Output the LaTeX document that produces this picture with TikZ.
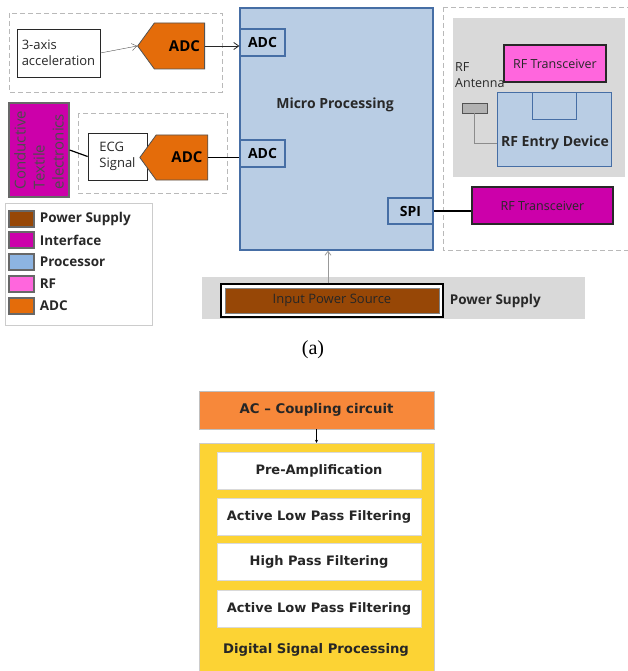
\documentclass[tikz,border=0pt]{standalone}
\usepackage{fontspec}
\setmainfont{Open Sans}
\newfontfamily\verd{DejaVu Sans}
\newfontfamily\capfont{Liberation Serif}
\usetikzlibrary{shapes.geometric, shapes.symbols, arrows.meta, positioning, calc}
\definecolor{procBlue}{RGB}{185,205,228}
\definecolor{procLine}{RGB}{70,110,165}
\definecolor{legBlue}{RGB}{141,180,226}
\definecolor{adcOrange}{RGB}{228,108,10}
\definecolor{ifMagenta}{RGB}{204,0,170}
\definecolor{rfPink}{RGB}{255,102,221}
\definecolor{powerBrown}{RGB}{151,71,6}
\definecolor{panelGray}{RGB}{217,217,217}
\definecolor{dashGray}{RGB}{185,185,185}
\definecolor{acOrange}{RGB}{247,136,58}
\definecolor{dspYellow}{RGB}{252,211,52}
\definecolor{darkgray}{RGB}{40,40,40}

\begin{document}
\begin{tikzpicture}[
  x=1pt, y=-1pt,
  plain/.style={
    rectangle, draw=darkgray, fill=white, thick, inner sep=2pt,
    align=left, font=\fontsize{13}{15.5}\selectfont, text=darkgray
  },
  adc/.style={
    signal, signal to=west, signal pointer angle=108,
    draw=darkgray!80, fill=adcOrange, thick, inner sep=0pt,
    minimum width=67pt, minimum height=46pt,
    font=\fontsize{15}{17}\selectfont\bfseries, text=black
  },
  port/.style={
    rectangle, draw=procLine, fill=procBlue, very thick, inner sep=0pt,
    minimum width=45pt, minimum height=27pt,
    font=\fontsize{14}{16}\selectfont\bfseries, text=black
  },
  rfbox/.style={
    rectangle, draw=darkgray, fill=#1, very thick, inner sep=0pt,
    font=\fontsize{12.5}{15}\selectfont, text=darkgray
  },
  group/.style={draw=dashGray, thick, dash pattern=on 5pt off 3pt},
  swatch/.style={
    rectangle, draw=darkgray!70, fill=#1, very thick,
    minimum width=25pt, minimum height=16pt
  },
  stage/.style={
    rectangle, draw=black!15, fill=white, inner sep=0pt,
    minimum width=204pt, minimum height=37pt,
    font=\verd\fontsize{13}{15}\selectfont\bfseries, text=black!85
  },
  arr/.style={-{Straight Barb[length=5pt,width=7pt]}, thick, darkgray},
  thinarr/.style={-{Straight Barb[length=5pt,width=7pt]}, darkgray!80},
  wire/.style={very thick, black}
]
  \useasboundingbox (0,0) rectangle (627,671);

  % Sensor groups
  \draw[group] (9,13) rectangle (222,92);
  \draw[group] (78,113) rectangle (227,193);
  \node[plain, minimum width=83pt, minimum height=48pt] (accel)
    at (58.5,53) {3-axis\\acceleration};
  \node[adc] (adcA) at (179.5,46) {\hspace*{10pt}ADC};
  \node[plain, minimum width=59pt, minimum height=47pt] (ecg)
    at (117.5,156.5) {ECG\\Signal};
  \node[adc, minimum width=68pt, minimum height=45pt] (adcB)
    at (182,157.5) {\hspace*{10pt}ADC};
  \node[rectangle, draw=darkgray!70, fill=ifMagenta, very thick,
    minimum width=94pt, minimum height=60pt, rotate=90, align=left,
    font=\fontsize{15}{19}\selectfont, text=black!70, inner sep=0pt]
    (textile) at (39,150) {Conductive\\Textile\\electronics};

  % Micro processor
  \node[rectangle, draw=procLine, fill=procBlue, very thick,
    minimum width=193pt, minimum height=242pt] (micro) at (336.5,129) {};
  \node[font=\fontsize{14}{16}\selectfont\bfseries, text=darkgray]
    (microlbl) at (335,105) {Micro Processing};
  \node[port] (portA) at (262.5,42.5) {ADC};
  \node[port] (portB) at (262.5,153.5) {ADC};
  \node[port, minimum height=26pt] (spi) at (410.5,211) {SPI};

  % RF group
  \draw[group] (443,7) -- (632,7);
  \draw[group] (443,7) -- (443,250) -- (632,250);
  \fill[panelGray] (453,18) rectangle (625,177);
  \node[rfbox=rfPink, minimum width=102pt, minimum height=37pt] (rfTop)
    at (555,63.5) {RF Transceiver};
  \node[rectangle, draw=procLine, fill=procBlue, thick,
    minimum width=114pt, minimum height=74pt] (entry) at (554,129) {};
  \node[rectangle, draw=procLine, fill=procBlue, thick, anchor=north,
    minimum width=44pt, minimum height=27pt] (entrySlot) at (554,92) {};
  \node[font=\fontsize{14}{16}\selectfont\bfseries, text=darkgray]
    (entrylbl) at (555,143) {RF Entry Device};
  \node[anchor=north west, align=left, inner sep=0pt,
    font=\fontsize{12.5}{16}\selectfont, text=darkgray]
    (antlbl) at (455,62) {RF\\Antenna};
  \node[rectangle, draw=darkgray!80, fill=black!30, thick,
    minimum width=25pt, minimum height=10pt, inner sep=0pt]
    (antenna) at (474.5,108) {};
  \node[rfbox=ifMagenta, minimum width=141pt, minimum height=37pt] (rfBot)
    at (542.5,205.5) {RF Transceiver};

  % Legend
  \draw[black!20, thick] (5,203) rectangle (152,325);
  \foreach \i/\y/\c/\t in {1/219/powerBrown/Power Supply,
                           2/240/ifMagenta/Interface,
                           3/262/legBlue/Processor,
                           4/284/rfPink/RF,
                           5/306/adcOrange/ADC} {
    \node[swatch=\c] (sw\i) at (21.5,\y) {};
    \node[right=5pt of sw\i, inner sep=0pt,
      font=\fontsize{13.5}{15}\selectfont\bfseries, text=darkgray] {\t};
  }

  % Power supply
  \fill[panelGray] (202,277) rectangle (585,319);
  \node[rectangle, draw=black, very thick, fill=white,
    minimum width=222pt, minimum height=33pt] (psOuter) at (332,300.5) {};
  \node[rectangle, draw=black!50, thick, fill=powerBrown,
    minimum width=214pt, minimum height=25pt,
    font=\fontsize{13}{15}\selectfont, text=black!85]
    (psInner) at (332,300.5) {Input Power Source};
  \node[right=6pt of psOuter, inner sep=0pt,
    font=\fontsize{13.5}{15}\selectfont\bfseries, text=darkgray]
    (pslbl) {Power Supply};

  \node[font=\capfont\fontsize{20}{22}\selectfont] (capA) at (313,350) {(a)};

  % Signal conditioning
  \node[rectangle, draw=black!25, fill=acOrange,
    minimum width=235pt, minimum height=38pt,
    font=\verd\fontsize{13.3}{15}\selectfont\bfseries, text=black!85]
    (ac) at (316.5,410) {AC – Coupling circuit};
  \node[rectangle, draw=black!20, fill=dspYellow,
    minimum width=235pt, minimum height=240pt] (dsp) at (316.5,563) {};
  \node[stage] (s1) at (319,470.5) {Pre-Amplification};
  \node[stage] (s2) at (319,517) {Active Low Pass Filtering};
  \node[stage] (s3) at (319,562) {High Pass Filtering};
  \node[stage] (s4) at (319,608.5) {Active Low Pass Filtering};
  \node[font=\verd\fontsize{13.2}{15}\selectfont\bfseries, text=black!85]
    (dsplbl) at (316,650) {Digital Signal Processing};

  % Connectors
  \draw[thinarr] (accel.east) -- (adcA.west);
  \draw[arr] (adcA.east) -- (adcA.east -| portA.west);
  \draw[wire] (textile.south) -- (ecg.west);
  \draw[wire] (adcB.east) -- (adcB.east -| portB.west);
  \draw[wire] (spi.east) -- (spi.east -| rfBot.west);
  \draw[black!45, thick] (antenna.south) |- (entry.west |- entrylbl);
  \draw[-{Straight Barb[length=4pt,width=6pt]}, black!40, thick]
    (psOuter.north -| 328,0) -- (micro.south -| 328,0);
  \draw[-{Stealth[length=3pt,width=3pt]}, black]
    (ac.south) -- (dsp.north);
\end{tikzpicture}
\end{document}
